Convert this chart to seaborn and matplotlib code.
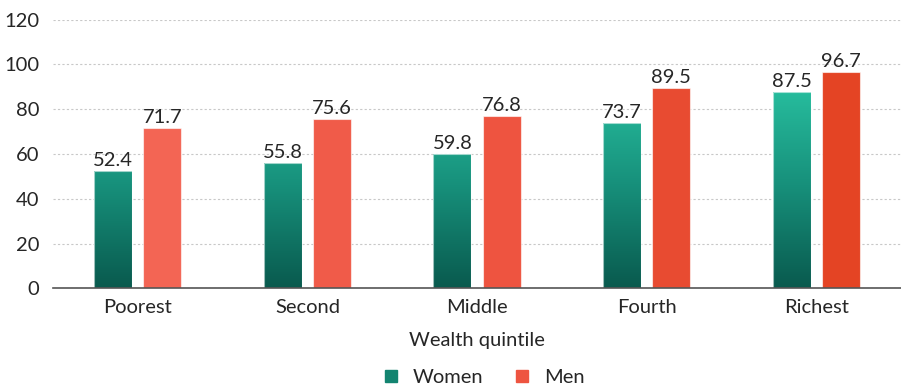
import numpy as np
import pandas as pd
import matplotlib
matplotlib.use("Agg")
import matplotlib.pyplot as plt
from matplotlib.colors import LinearSegmentedColormap
from matplotlib.lines import Line2D
import seaborn as sns

# Data
quintiles = ["Poorest", "Second", "Middle", "Fourth", "Richest"]
women = [52.4, 55.8, 59.8, 73.7, 87.5]
men = [71.7, 75.6, 76.8, 89.5, 96.7]
y_ticks = [0, 20, 40, 60, 80, 100, 120]

# Styles
men_colors = ["#f36554", "#f05b49", "#ee5440", "#e84b31", "#e44424"]
teal_cmap = LinearSegmentedColormap.from_list("teal", ["#095a4e", "#17907b", "#28c0a0"])
text_color = "#262626"
fs = 14.5

df = pd.DataFrame({
    "quintile": quintiles * 2,
    "value": women + men,
    "sex": ["Women"] * len(quintiles) + ["Men"] * len(quintiles),
})

sns.set_theme(style="white")
plt.rcParams["font.family"] = ["Lato", "DejaVu Sans"]

fig = plt.figure(figsize=(9.01, 3.87), dpi=100)
ax = fig.add_axes([53 / 901, 1 - 288.3 / 387, 1 - 53 / 901, (288.3 - 19.5) / 387])

sns.barplot(data=df, x="quintile", y="value", hue="sex", order=quintiles,
            hue_order=["Women", "Men"], width=0.58, gap=0.23,
            palette={"Women": "#17907b", "Men": "#ee5440"},
            legend=False, ax=ax, zorder=3)

ax.set_xlim(-0.5, 4.5)
ax.set_ylim(0, 120)

women_bars = ax.containers[0]
men_bars = ax.containers[1]

# Vertical gradient fill for the women's bars
grad_top = 92.0
grad = np.linspace(0, 1, 256).reshape(-1, 1)
for bar in women_bars:
    bar.set_facecolor("none")
    bar.set_edgecolor((1, 1, 1, 0.6))
    bar.set_linewidth(0.8)
    x0 = bar.get_x()
    x1 = x0 + bar.get_width()
    im = ax.imshow(grad, cmap=teal_cmap, origin="lower", aspect="auto",
                   extent=[x0, x1, 0, grad_top], zorder=2.9,
                   interpolation="bilinear")
    im.set_clip_path(bar)

for bar, c in zip(men_bars, men_colors):
    bar.set_facecolor(c)
    bar.set_edgecolor((1, 1, 1, 0.6))
    bar.set_linewidth(0.8)

ax.set_xlim(-0.5, 4.5)
ax.set_ylim(0, 120)

ax.bar_label(women_bars, labels=[f"{v:.1f}" for v in women], padding=1.5,
             fontsize=fs, color=text_color)
ax.bar_label(men_bars, labels=[f"{v:.1f}" for v in men], padding=1.5,
             fontsize=fs, color=text_color)

ax.set_yticks(y_ticks)
ax.yaxis.grid(True, linestyle=(0, (2, 2)), color="#c8c8c8", linewidth=0.8, zorder=0)
ax.set_axisbelow(True)
for s in ["top", "right", "left"]:
    ax.spines[s].set_visible(False)
ax.spines["bottom"].set_color("#555555")
ax.spines["bottom"].set_linewidth(1.2)
ax.spines["bottom"].set_zorder(4)
ax.tick_params(axis="both", length=0, labelsize=fs, labelcolor=text_color)
ax.tick_params(axis="x", pad=8)
ax.tick_params(axis="y", pad=10)
ax.set_ylabel("")
ax.set_xlabel("Wealth quintile", fontsize=fs, color=text_color, labelpad=11)

handles = [
    Line2D([0], [0], marker="s", linestyle="none", markersize=9,
           markerfacecolor="#138470", markeredgecolor="#138470", label="Women"),
    Line2D([0], [0], marker="s", linestyle="none", markersize=9,
           markerfacecolor="#ee5440", markeredgecolor="#ee5440", label="Men"),
]
fig.legend(handles=handles, loc="center", bbox_to_anchor=(0.53, 1 - 377 / 387),
           ncol=2, frameon=False, fontsize=fs, handletextpad=0.1,
           columnspacing=0.9, labelcolor=text_color)

fig.savefig("out.png", dpi=100)
